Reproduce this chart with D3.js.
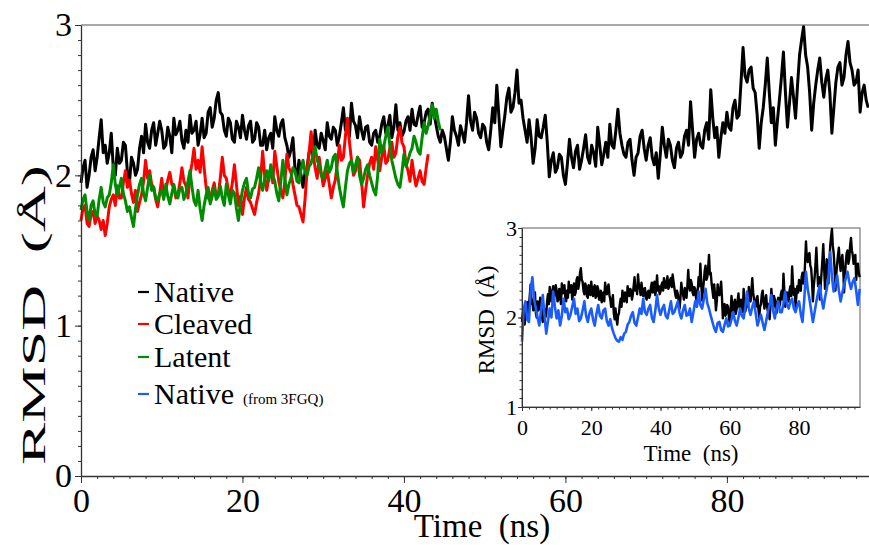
<!DOCTYPE html>
<html>
<head>
<meta charset="utf-8">
<script src="https://cdn.jsdelivr.net/npm/d3@7"></script>
<style>
  body { margin: 0; background: #fff; }
  svg text { font-family: "Liberation Serif", "Times New Roman", serif !important; fill: #000; }
  .axis path, .axis line { stroke: #333; }
</style>
</head>
<body>
<div id="chart"></div>
<script>
// RMSD traces (Å); main traces every 0.25 ns, 3FGQ trace every 0.5 ns
const nativeRmsd = [
  1.95, 2.05, 2.10, 1.92, 2.00, 2.12, 2.17, 2.03, 2.12, 2.25, 2.37, 2.15, 2.20, 2.08, 2.15, 2.28, 2.05, 2.00, 2.18, 2.08,
  2.10, 2.22, 2.20, 2.02, 1.95, 2.12, 2.08, 2.00, 2.04, 2.18, 2.26, 2.15, 2.34, 2.22, 2.18, 2.30, 2.35, 2.20, 2.28, 2.36,
  2.30, 2.18, 2.20, 2.32, 2.26, 2.15, 2.38, 2.27, 2.30, 2.36, 2.23, 2.18, 2.30, 2.22, 2.40, 2.28, 2.30, 2.36, 2.20, 2.27,
  2.38, 2.25, 2.28, 2.42, 2.45, 2.32, 2.38, 2.50, 2.55, 2.42, 2.40, 2.30, 2.26, 2.38, 2.35, 2.24, 2.22, 2.36, 2.32, 2.25,
  2.40, 2.30, 2.24, 2.33, 2.36, 2.22, 2.24, 2.35, 2.32, 2.20, 2.20, 2.30, 2.17, 2.25, 2.28, 2.18, 2.39, 2.30, 2.26, 2.34,
  2.37, 2.25, 2.20, 2.12, 2.17, 2.25, 2.05, 1.98, 2.10, 2.00, 1.92, 2.02, 2.05, 2.15, 2.21, 2.12, 2.30, 2.20, 2.18, 2.28,
  2.23, 2.17, 2.35, 2.26, 2.24, 2.32, 2.30, 2.20, 2.26, 2.35, 2.45, 2.30, 2.35, 2.26, 2.48, 2.36, 2.33, 2.25, 2.39, 2.30,
  2.24, 2.32, 2.33, 2.22, 2.20, 2.28, 2.30, 2.22, 2.26, 2.34, 2.39, 2.28, 2.33, 2.40, 2.25, 2.32, 2.47, 2.30, 2.35, 2.26,
  2.29, 2.36, 2.39, 2.30, 2.44, 2.34, 2.33, 2.40, 2.46, 2.32, 2.35, 2.42, 2.44, 2.34, 2.48, 2.40, 2.33, 2.26, 2.22, 2.30,
  2.26, 2.18, 2.10, 2.22, 2.39, 2.30, 2.26, 2.20, 2.33, 2.28, 2.22, 2.35, 2.53, 2.36, 2.30, 2.42, 2.38, 2.28, 2.25, 2.34,
  2.32, 2.22, 2.17, 2.30, 2.45, 2.35, 2.60, 2.40, 2.19, 2.30, 2.40, 2.52, 2.58, 2.42, 2.45, 2.55, 2.70, 2.48, 2.50, 2.38,
  2.30, 2.22, 2.37, 2.25, 2.08, 2.18, 2.37, 2.26, 2.25, 2.32, 2.40, 2.22, 1.99, 2.10, 2.15, 2.02, 2.05, 2.14, 2.12, 2.00,
  1.94, 2.08, 2.24, 2.12, 2.05, 2.16, 2.20, 2.04, 2.10, 2.18, 2.27, 2.12, 2.08, 2.20, 2.15, 2.06, 2.32, 2.20, 2.07, 2.14,
  2.22, 2.12, 2.34, 2.20, 2.18, 2.30, 2.44, 2.28, 2.20, 2.14, 2.12, 2.22, 2.24, 2.10, 2.00, 2.12, 2.15, 2.26, 2.30, 2.18,
  2.10, 2.20, 2.25, 2.12, 2.07, 2.15, 1.98, 2.14, 2.32, 2.20, 2.12, 2.24, 2.20, 2.10, 2.05, 2.18, 2.22, 2.12, 2.15, 2.26,
  2.30, 2.20, 2.49, 2.30, 2.12, 2.24, 2.28, 2.20, 2.18, 2.30, 2.35, 2.24, 2.57, 2.38, 2.25, 2.32, 2.12, 2.25, 2.35, 2.28,
  2.42, 2.32, 2.30, 2.45, 2.50, 2.38, 2.40, 2.62, 2.85, 2.66, 2.62, 2.70, 2.72, 2.58, 2.55, 2.40, 2.18, 2.35, 2.45, 2.60,
  2.78, 2.55, 2.35, 2.45, 2.20, 2.36, 2.50, 2.65, 2.82, 2.55, 2.32, 2.48, 2.65, 2.52, 2.38, 2.60, 2.80, 2.90, 2.99, 2.80,
  2.72, 2.55, 2.30, 2.48, 2.60, 2.70, 2.78, 2.62, 2.52, 2.64, 2.70, 2.55, 2.28, 2.45, 2.62, 2.72, 2.75, 2.60, 2.65, 2.80,
  2.89, 2.75, 2.70, 2.60, 2.62, 2.70, 2.42, 2.55, 2.60, 2.50, 2.45
];

const cleavedRmsd = [
  1.70, 1.78, 1.80, 1.68, 1.66, 1.74, 1.76, 1.68, 1.73, 1.70, 1.64, 1.70, 1.60, 1.68, 1.79, 1.84, 1.87, 1.80, 1.93, 1.85,
  1.85, 1.95, 2.03, 1.92, 1.97, 1.88, 1.82, 1.90, 1.76, 1.82, 1.87, 1.96, 2.10, 1.98, 2.03, 1.94, 1.92, 1.84, 1.79, 1.88,
  1.98, 1.86, 1.90, 1.97, 2.02, 1.94, 1.92, 1.85, 1.87, 1.95, 2.05, 1.96, 1.93, 1.85, 2.00, 2.08, 2.18, 2.04, 2.10, 2.02,
  2.19, 2.05, 1.92, 1.85, 1.83, 1.90, 1.95, 1.86, 1.87, 1.98, 2.12, 2.00, 1.98, 1.90, 1.87, 1.95, 2.07, 1.94, 1.80, 1.86,
  1.74, 1.85, 1.92, 1.84, 1.82, 1.78, 1.74, 1.82, 1.88, 1.98, 2.16, 2.00, 1.90, 1.98, 2.05, 1.95, 2.16, 2.06, 1.96, 1.90,
  1.85, 1.96, 2.14, 2.05, 2.02, 1.94, 1.87, 1.80, 1.79, 1.74, 1.69, 1.84, 2.03, 2.15, 2.29, 2.14, 2.05, 1.98, 2.12, 2.02,
  1.93, 1.98, 2.03, 1.94, 1.85, 1.92, 1.97, 2.08, 2.20, 2.10, 2.12, 2.26, 2.38, 2.22, 2.10, 2.00, 2.03, 2.12, 2.10, 1.96,
  1.79, 1.90, 2.00, 2.08, 2.12, 2.04, 2.19, 2.10, 2.03, 2.12, 2.20, 2.08, 2.10, 2.18, 2.22, 2.12, 2.15, 2.26, 2.32, 2.22,
  2.19, 2.08, 2.03, 1.96, 2.10, 2.00, 1.93, 1.98, 2.03, 1.96, 1.94, 2.05, 2.14
];

const latentRmsd = [
  1.77, 1.84, 1.87, 1.76, 1.70, 1.80, 1.83, 1.74, 1.73, 1.84, 1.92, 1.82, 1.79, 1.85, 1.87, 1.95, 2.07, 1.94, 1.87, 1.92,
  1.98, 1.88, 1.83, 1.76, 1.79, 1.72, 1.66, 1.78, 1.87, 1.94, 1.98, 1.88, 1.83, 1.92, 2.00, 1.90, 1.92, 1.85, 1.83, 1.88,
  1.90, 1.84, 1.94, 1.86, 1.81, 1.88, 1.94, 1.87, 1.85, 1.91, 1.92, 1.84, 1.88, 1.96, 2.03, 1.92, 1.83, 1.80, 1.90, 1.78,
  1.70, 1.80, 1.87, 1.92, 1.81, 1.86, 1.92, 1.84, 1.86, 1.93, 1.85, 1.80, 1.94, 1.87, 1.81, 1.90, 1.88, 1.78, 1.70, 1.82,
  1.90, 1.95, 1.98, 1.88, 1.85, 1.91, 1.92, 1.98, 2.05, 1.95, 1.90, 1.98, 2.03, 1.96, 2.07, 2.00, 1.96, 1.88, 1.83, 1.96,
  2.10, 1.98, 1.87, 1.94, 1.98, 2.05, 2.03, 1.96, 1.95, 2.04, 2.10, 2.02, 2.00, 2.06, 2.08, 2.14, 2.19, 2.10, 2.07, 2.00,
  1.98, 2.04, 2.10, 2.02, 2.05, 2.12, 2.14, 2.02, 1.92, 1.85, 1.79, 1.92, 2.03, 2.08, 2.10, 2.02, 2.07, 2.12, 2.00, 1.94,
  1.98, 2.04, 2.07, 2.00, 1.95, 1.90, 1.87, 2.00, 2.24, 2.15, 2.19, 2.26, 2.32, 2.20, 2.10, 2.04, 1.98, 1.94, 1.92, 2.02,
  2.14, 2.06, 2.10, 2.15, 2.18, 2.26, 2.22, 2.16, 2.14, 2.25, 2.35, 2.28, 2.33, 2.40, 2.47, 2.38, 2.44, 2.36, 2.30
];

const native3fgqRmsd = [
  1.73, 2.10, 2.18, 1.98, 1.95, 2.30, 2.45, 2.20, 2.10, 2.00,
  1.91, 2.08, 2.25, 2.02, 1.82, 1.96, 2.10, 2.00, 2.29, 2.12,
  1.99, 2.08, 1.91, 2.02, 2.21, 2.06, 2.10, 1.98, 2.03, 2.12,
  2.21, 2.04, 2.10, 1.96, 1.99, 2.08, 2.18, 2.02, 1.95, 2.05,
  2.10, 1.98, 1.91, 2.04, 2.14, 2.02, 1.99, 2.08, 2.10, 1.96,
  1.91, 1.98, 1.88, 1.82, 1.77, 1.74, 1.73, 1.78, 1.75, 1.82,
  1.84, 1.92, 1.95, 2.02, 2.06, 1.94, 1.91, 2.00, 2.10, 2.04,
  2.21, 2.06, 2.03, 2.10, 2.14, 2.00, 1.95, 2.08, 2.25, 2.10,
  2.03, 2.10, 2.14, 2.02, 1.99, 2.08, 2.18, 2.04, 2.06, 2.12,
  2.18, 2.05, 1.99, 2.08, 2.14, 2.02, 2.03, 2.10, 1.95, 2.06,
  2.18, 2.12, 2.29, 2.14, 2.10, 2.20, 2.32, 2.16, 2.10, 2.02,
  1.95, 1.88, 1.84, 1.94, 1.95, 1.86, 1.84, 1.92, 1.99, 1.90,
  1.91, 1.98, 2.06, 1.96, 1.91, 2.00, 2.10, 2.02, 1.99, 2.12,
  2.29, 2.10, 2.03, 2.12, 2.18, 2.04, 1.91, 1.98, 2.03, 1.94,
  1.86, 1.96, 2.06, 2.14, 2.25, 2.08, 1.99, 2.10, 2.18, 2.06,
  2.06, 2.16, 2.29, 2.14, 2.10, 2.18, 2.21, 2.10, 2.06, 2.14,
  2.18, 2.04, 1.95, 2.20, 2.51, 2.32, 2.21, 2.08, 1.95, 2.06,
  2.18, 2.28, 2.36, 2.20, 2.10, 2.22, 2.32, 2.45, 2.73, 2.45,
  2.29, 2.38, 2.47, 2.30, 2.18, 2.28, 2.36, 2.44, 2.51, 2.40,
  2.32, 2.40, 2.44, 2.30, 2.14, 2.32
];

const timeTicks = [0, 20, 40, 60, 80];
const rmsdTicks = [0, 1, 2, 3];
const insetRmsdTicks = [1, 2, 3];
const legendNames = ["Native", "Cleaved", "Latent", "Native"];
const legendNotes = ["", "", "", "(from 3FGQ)"];

const colors = { native: "#000000", cleaved: "#ff0000", latent: "#008c00", fgq: "#1a5cff" };
const serif = '"Liberation Serif", "Times New Roman", serif';

const width = 869, height = 545;
const svg = d3.select("#chart").append("svg")
    .attr("width", width)
    .attr("height", height)
    .style("font-family", serif);

const toPoints = (arr, step) => arr.map((v, i) => ({ t: i * step, v: v }));

function trace(sel, data, step, lineGen, color, w) {
    sel.append("path").datum(toPoints(data, step))
        .attr("d", lineGen).attr("fill", "none")
        .attr("stroke", color).attr("stroke-width", w)
        .attr("stroke-linejoin", "round");
}

// ---- main chart
const x = d3.scaleLinear().domain([0, 97.6]).range([81, 869]);
const y = d3.scaleLinear().domain([0, 3]).range([476, 25]);
const line = d3.line().x(d => x(d.t)).y(d => y(d.v));

trace(svg, nativeRmsd, 0.25, line, colors.native, 3);
trace(svg, cleavedRmsd, 0.25, line, colors.cleaved, 3);
trace(svg, latentRmsd, 0.25, line, colors.latent, 3);

// top frame line
svg.append("line")
    .attr("x1", 81).attr("x2", 869).attr("y1", 25).attr("y2", 25)
    .attr("stroke", "#555").attr("stroke-width", 1.2);

// minor ticks
svg.append("g").attr("class", "axis")
    .attr("transform", "translate(81,0)")
    .call(d3.axisLeft(y).tickValues(d3.range(0, 3.001, 0.1)).tickSize(3).tickFormat(""))
    .select(".domain").remove();
svg.append("g").attr("class", "axis")
    .attr("transform", "translate(0,476)")
    .call(d3.axisBottom(x).tickValues(d3.range(0, 97, 2)).tickSize(3).tickFormat(""))
    .select(".domain").remove();

const yAxis = svg.append("g").attr("class", "axis")
    .attr("transform", "translate(81,0)")
    .call(d3.axisLeft(y).tickValues(rmsdTicks).tickFormat(d3.format("d"))
        .tickSize(6).tickSizeOuter(0).tickPadding(3));
yAxis.selectAll("text").attr("font-size", 34);
yAxis.select(".domain").attr("stroke-width", 1.3);

const xAxis = svg.append("g").attr("class", "axis")
    .attr("transform", "translate(0,476)")
    .call(d3.axisBottom(x).tickValues(timeTicks).tickSize(7).tickSizeOuter(0).tickPadding(5));
xAxis.selectAll("text").attr("font-size", 34);
xAxis.select(".domain").attr("stroke-width", 1.3);

svg.append("text")
    .attr("transform", "translate(45,315) rotate(-90)")
    .attr("text-anchor", "middle")
    .attr("font-size", 34)
    .attr("textLength", 300)
    .attr("lengthAdjust", "spacingAndGlyphs")
    .text("RMSD\u00a0\u00a0(Å)");

svg.append("text")
    .attr("x", 482).attr("y", 537)
    .attr("text-anchor", "middle")
    .attr("font-size", 33)
    .text("Time\u00a0\u00a0(ns)");

// legend
const legendColors = [colors.native, colors.cleaved, colors.latent, colors.fgq];
const legendY = [302, 334, 367, 404];
const legend = svg.append("g");
legendNames.forEach((name, i) => {
    legend.append("line")
        .attr("x1", 138).attr("x2", 149)
        .attr("y1", legendY[i] - 10).attr("y2", legendY[i] - 10)
        .attr("stroke", legendColors[i]).attr("stroke-width", 2.2);
    const t = legend.append("text")
        .attr("x", 154).attr("y", legendY[i])
        .attr("font-size", 30)
        .style("font-family", serif)
        .text(name);
    if (legendNotes[i]) {
        t.append("tspan").attr("dx", 9).attr("font-size", 15).text(legendNotes[i]);
    }
});

// ---- inset
const ix = d3.scaleLinear().domain([0, 97.6]).range([522, 860]);
const iy = d3.scaleLinear().domain([1, 3]).range([407, 228]);
const iline = d3.line().x(d => ix(d.t)).y(d => iy(d.v));

svg.append("rect")
    .attr("x", 522).attr("y", 228).attr("width", 338).attr("height", 179)
    .attr("fill", "#fff").attr("stroke", "#777").attr("stroke-width", 1.2);

trace(svg, nativeRmsd, 0.25, iline, colors.native, 2.4);
trace(svg, native3fgqRmsd, 0.5, iline, colors.fgq, 2.6);

svg.append("g").attr("class", "axis")
    .attr("transform", "translate(522,0)")
    .call(d3.axisLeft(iy).tickValues(d3.range(1, 3.001, 0.1)).tickSize(2.5).tickFormat(""))
    .select(".domain").remove();
svg.append("g").attr("class", "axis")
    .attr("transform", "translate(0,407)")
    .call(d3.axisBottom(ix).tickValues(d3.range(0, 97, 2)).tickSize(2.5).tickFormat(""))
    .select(".domain").remove();

const iyAxis = svg.append("g").attr("class", "axis")
    .attr("transform", "translate(522,0)")
    .call(d3.axisLeft(iy).tickValues(insetRmsdTicks).tickFormat(d3.format("d"))
        .tickSize(4).tickSizeOuter(0).tickPadding(1));
iyAxis.selectAll("text").attr("font-size", 22);
iyAxis.select(".domain").attr("stroke", "#555");

const ixAxis = svg.append("g").attr("class", "axis")
    .attr("transform", "translate(0,407)")
    .call(d3.axisBottom(ix).tickValues(timeTicks).tickSize(4).tickSizeOuter(0).tickPadding(8));
ixAxis.selectAll("text").attr("font-size", 22);
ixAxis.select(".domain").attr("stroke", "#555");

svg.append("text")
    .attr("transform", "translate(494,320) rotate(-90)")
    .attr("text-anchor", "middle")
    .attr("font-size", 23)
    .text("RMSD\u00a0\u00a0(Å)");

svg.append("text")
    .attr("x", 691).attr("y", 461)
    .attr("text-anchor", "middle")
    .attr("font-size", 23)
    .text("Time\u00a0\u00a0(ns)");
</script>
</body>
</html>
